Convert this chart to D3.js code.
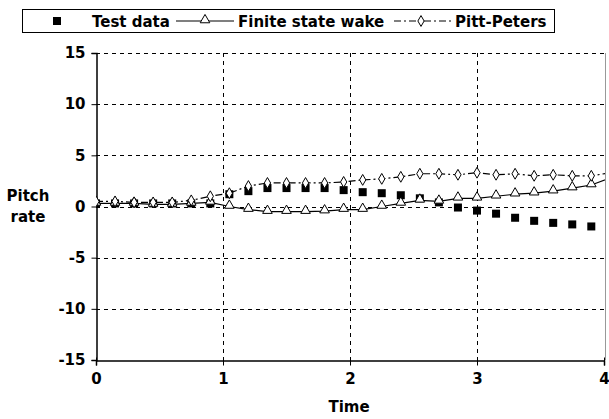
<!DOCTYPE html>
<html>
<head>
<meta charset="utf-8">
<script src="https://cdn.jsdelivr.net/npm/d3@7"></script>
<style>
  body { margin: 0; background: #fff; }
  text { font-family: "DejaVu Sans", Verdana, sans-serif; font-weight: bold; }
</style>
</head>
<body>
<svg id="chart" width="609" height="419"></svg>
<script>
// time steps (0.15 s apart), last one runs past the axis end and is clipped
const times = [0, 0.15, 0.3, 0.45, 0.6, 0.75, 0.9, 1.05, 1.2, 1.35, 1.5, 1.65, 1.8, 1.95,
  2.1, 2.25, 2.4, 2.55, 2.7, 2.85, 3.0, 3.15, 3.3, 3.45, 3.6, 3.75, 3.9, 4.05];

const testData = [0.3, 0.3, 0.3, 0.3, 0.3, 0.3, 0.3, 1.2, 1.5, 1.8, 1.8, 1.8, 1.8, 1.6,
  1.4, 1.3, 1.1, 0.8, 0.4, -0.1, -0.4, -0.7, -1.1, -1.4, -1.6, -1.75, -1.95, null];

const finiteStateWake = [0.3, 0.3, 0.3, 0.2, 0.2, 0.3, 0.4, 0.0, -0.3, -0.5, -0.5, -0.5, -0.45, -0.3,
  -0.3, 0.0, 0.3, 0.6, 0.5, 0.8, 0.8, 1.0, 1.2, 1.3, 1.5, 1.8, 2.1, 2.8];

const pittPeters = [0.5, 0.5, 0.4, 0.4, 0.4, 0.6, 1.0, 1.3, 2.0, 2.3, 2.3, 2.3, 2.3, 2.4,
  2.6, 2.7, 2.9, 3.2, 3.2, 3.1, 3.3, 3.1, 3.2, 3.0, 3.1, 3.0, 3.0, 3.3];

const xTicks = [0, 1, 2, 3, 4];
const yTicks = [-15, -10, -5, 0, 5, 10, 15];

const svg = d3.select("#chart");
const pLeft = 96, pRight = 604, pTop = 53, pBottom = 360;
const fs = 15;

const x = d3.scaleLinear().domain([0, 4]).range([pLeft, pRight]);
const y = d3.scaleLinear().domain([-15, 15]).range([pBottom, pTop]);

svg.append("defs").append("clipPath").attr("id", "plotClip")
  .append("rect").attr("x", pLeft).attr("y", pTop - 10).attr("width", pRight - pLeft + 1).attr("height", pBottom - pTop + 20);

// gridlines
const grid = svg.append("g").attr("stroke", "#000").attr("stroke-width", 1).attr("stroke-dasharray", "4,4");
grid.selectAll("line.h").data(yTicks.filter(d => d > -15)).enter().append("line")
  .attr("x1", pLeft).attr("x2", pRight)
  .attr("y1", d => Math.round(y(d)) + 0.5).attr("y2", d => Math.round(y(d)) + 0.5);
grid.selectAll("line.v").data(xTicks.filter(d => d > 0 && d < 4)).enter().append("line")
  .attr("y1", pTop).attr("y2", pBottom)
  .attr("x1", d => Math.round(x(d)) + 0.5).attr("x2", d => Math.round(x(d)) + 0.5);

// right edge
svg.append("line").attr("x1", pRight + 1.5).attr("x2", pRight + 1.5).attr("y1", pTop).attr("y2", pBottom)
  .attr("stroke", "#999");

// axes
const yAxis = svg.append("g").attr("transform", `translate(${pLeft + 0.5},0)`)
  .call(d3.axisLeft(y).tickValues(yTicks).tickSize(5).tickPadding(6).tickFormat(d => String(d)));
const xAxis = svg.append("g").attr("transform", `translate(0,${pBottom + 0.5})`)
  .call(d3.axisBottom(x).tickValues(xTicks).tickSize(5).tickPadding(8).tickFormat(d => String(d)));
[xAxis, yAxis].forEach(a => {
  a.select(".domain").attr("stroke", "#000").attr("stroke-width", 1.5);
  a.selectAll(".tick line").attr("stroke", "#000");
  a.selectAll("text").attr("font-size", fs).attr("fill", "#000")
    .style("font-family", "'DejaVu Sans', Verdana, sans-serif").style("font-weight", "bold");
});
xAxis.selectAll(".tick line").attr("y1", -3);

svg.append("text").attr("x", 349).attr("y", 412).attr("text-anchor", "middle")
  .attr("font-size", fs).text("Time");
svg.append("text").attr("x", 28).attr("y", 201).attr("text-anchor", "middle").attr("font-size", fs).text("Pitch");
svg.append("text").attr("x", 28).attr("y", 222).attr("text-anchor", "middle").attr("font-size", fs).text("rate");

// series
const plot = svg.append("g").attr("clip-path", "url(#plotClip)");
const rows = times.map((t, i) => ({ t, test: testData[i], fsw: finiteStateWake[i], pp: pittPeters[i] }));

const sq = 8;
plot.selectAll("rect.test").data(rows.filter(d => d.test !== null)).enter().append("rect")
  .attr("x", d => x(d.t) - sq / 2).attr("y", d => y(d.test) - sq / 2)
  .attr("width", sq).attr("height", sq).attr("fill", "#000");

const line = key => d3.line().x(d => x(d.t)).y(d => y(d[key]));
const tri = d3.symbol().type(d3.symbolTriangle).size(40);
const dia = d3.symbol().type(d3.symbolDiamond).size(34);

plot.append("path").datum(rows).attr("d", line("fsw"))
  .attr("fill", "none").attr("stroke", "#000").attr("stroke-width", 1.2);
plot.selectAll("path.fsw").data(rows).enter().append("path")
  .attr("transform", d => `translate(${x(d.t)},${y(d.fsw) - 1})`).attr("d", tri)
  .attr("fill", "#fff").attr("stroke", "#000").attr("stroke-width", 1);

plot.append("path").datum(rows).attr("d", line("pp"))
  .attr("fill", "none").attr("stroke", "#000").attr("stroke-width", 1.2).attr("stroke-dasharray", "7,3,2,3");
plot.selectAll("path.pp").data(rows).enter().append("path")
  .attr("transform", d => `translate(${x(d.t)},${y(d.pp)})`).attr("d", dia)
  .attr("fill", "#fff").attr("stroke", "#000").attr("stroke-width", 1);

// legend
const lg = svg.append("g");
lg.append("rect").attr("x", 22.5).attr("y", 9.5).attr("width", 532).attr("height", 23)
  .attr("fill", "#fff").attr("stroke", "#000");
lg.append("rect").attr("x", 53).attr("y", 17).attr("width", 8).attr("height", 8).attr("fill", "#000");
lg.append("text").attr("x", 92).attr("y", 27).attr("font-size", fs).text("Test data");
lg.append("line").attr("x1", 176).attr("x2", 234).attr("y1", 21).attr("y2", 21).attr("stroke", "#000").attr("stroke-width", 1.2);
lg.append("path").attr("transform", "translate(205,20)").attr("d", tri).attr("fill", "#fff").attr("stroke", "#000");
lg.append("text").attr("x", 238).attr("y", 27).attr("font-size", fs).text("Finite state wake");
lg.append("line").attr("x1", 394).attr("x2", 451).attr("y1", 21).attr("y2", 21).attr("stroke", "#000")
  .attr("stroke-width", 1.2).attr("stroke-dasharray", "7,3,2,3");
lg.append("path").attr("transform", "translate(421,21)").attr("d", dia).attr("fill", "#fff").attr("stroke", "#000");
lg.append("text").attr("x", 455).attr("y", 27).attr("font-size", fs).text("Pitt-Peters");
</script>
</body>
</html>
